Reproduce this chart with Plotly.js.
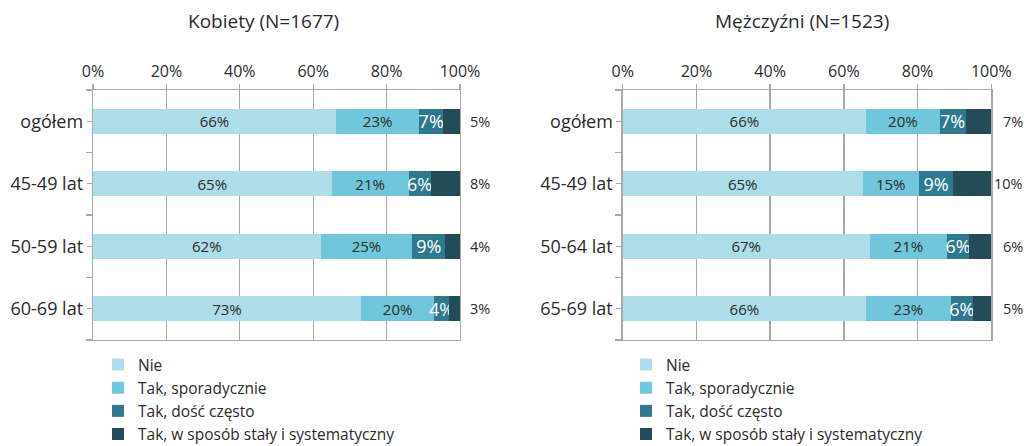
<!DOCTYPE html>
<html>
<head>
<meta charset="utf-8">
<script src="https://cdn.plot.ly/plotly-3.0.1.min.js"></script>
<style>html,body{margin:0;padding:0;background:#fff;}#chart{width:1027px;height:446px;}</style>
</head>
<body>
<div id="chart"></div>
<script>
// ---- data ----
const seriesNames = ['Nie', 'Tak, sporadycznie', 'Tak, dość często', 'Tak, w sposób stały i systematyczny'];
const colors = ['#acdde8', '#70c6da', '#2f798f', '#234b58'];

const titleK = 'Kobiety (N=1677)';
const categoriesK = ['ogółem', '45-49 lat', '50-59 lat', '60-69 lat'];
const kNie = [66.2, 65, 62, 73];
const kSporadycznie = [22.7, 21, 25, 20];
const kCzesto = [6.5, 6, 9, 4];
const kStale = [4.6, 8, 4, 3];

const titleM = 'Mężczyźni (N=1523)';
const categoriesM = ['ogółem', '45-49 lat', '50-64 lat', '65-69 lat'];
const mNie = [66, 65.1, 67, 66];
const mSporadycznie = [20, 15.2, 21, 23];
const mCzesto = [7, 9.4, 6, 6];
const mStale = [7, 10.3, 6, 5];

const xTicks = [0, 20, 40, 60, 80, 100];
const xTickLabels = ['0%', '20%', '40%', '60%', '80%', '100%'];

// ---- styling ----
const FONT = 'Open Sans, Noto Sans, sans-serif';
const TXT = '#2b2b2b';
const GRID = '#a9a9a9';
const W = 1027, H = 446;

function pct(v) { return Math.round(v) + '%'; }

function makeTraces(cats, seriesList, xa, ya, legendId) {
  const idx = cats.map((c, i) => i);
  return seriesList.map((vals, s) => {
    const t = {
      type: 'bar', orientation: 'h',
      x: vals, y: idx,
      name: seriesNames[s],
      xaxis: xa, yaxis: ya,
      legend: legendId,
      marker: {color: colors[s], line: {width: 0}},
      hoverinfo: 'skip'
    };
    if (s < 3) {
      t.text = vals.map(pct);
      t.textposition = 'inside';
      t.insidetextanchor = 'middle';
      t.textangle = 0;
      t.constraintext = 'none';
      t.textfont = s < 2 ? {family: FONT, size: 15, color: TXT} : {family: FONT, size: 18, color: '#ffffff'};
    } else {
      t.textposition = 'none';
    }
    return t;
  });
}

const data = [].concat(
  makeTraces(categoriesK, [kNie, kSporadycznie, kCzesto, kStale], 'x', 'y', 'legend'),
  makeTraces(categoriesM, [mNie, mSporadycznie, mCzesto, mStale], 'x2', 'y2', 'legend2')
);

function xAxis(domain, anchor) {
  return {
    domain: domain, anchor: anchor, side: 'top',
    range: [0, 100], tickmode: 'array', tickvals: xTicks, ticktext: xTickLabels,
    showgrid: true, gridcolor: GRID, gridwidth: 1.3,
    showline: true, mirror: true, linecolor: GRID, linewidth: 1.3,
    ticks: 'outside', ticklen: 5, tickcolor: GRID, tickwidth: 1.3,
    tickfont: {family: FONT, size: 16, color: TXT},
    zeroline: false, fixedrange: true
  };
}
function yAxis(cats, anchor) {
  const idx = cats.map((c, i) => i);
  const bounds = [-0.5].concat(idx.map(i => i + 0.5));
  return {
    domain: [1 - 340 / H, 1 - 90 / H], anchor: anchor,
    range: [cats.length - 0.5, -0.5],
    tickmode: 'array', tickvals: idx, ticktext: cats,
    ticks: 'outside', ticklen: 5, tickcolor: GRID, tickwidth: 1.3,
    minor: {tickmode: 'array', tickvals: bounds, ticks: 'outside', ticklen: 6, tickcolor: GRID, tickwidth: 1.3, showgrid: false},
    showgrid: false, zeroline: false,
    showline: true, mirror: true, linecolor: GRID, linewidth: 1.3,
    tickfont: {family: FONT, size: 18, color: TXT},
    fixedrange: true
  };
}

const annotations = [
  {text: titleK, xref: 'paper', yref: 'paper', x: 263 / W, y: 1 - 21 / H, xanchor: 'center', yanchor: 'middle', showarrow: false, font: {family: FONT, size: 19, color: TXT}},
  {text: titleM, xref: 'paper', yref: 'paper', x: 802 / W, y: 1 - 21 / H, xanchor: 'center', yanchor: 'middle', showarrow: false, font: {family: FONT, size: 19, color: TXT}}
];
kStale.forEach((v, i) => annotations.push({text: pct(v), xref: 'x', yref: 'y', x: 100, y: i, xanchor: 'left', xshift: 8, showarrow: false, font: {family: FONT, size: 14.5, color: TXT}}));
mStale.forEach((v, i) => annotations.push({text: pct(v), xref: 'x2', yref: 'y2', x: 100, y: i, xanchor: 'right', xshift: 34, showarrow: false, font: {family: FONT, size: 14.5, color: TXT}}));

function legendCfg(xpx) {
  return {
    x: xpx / W, y: 1 - 348 / H, xanchor: 'left', yanchor: 'top',
    orientation: 'v', traceorder: 'normal', tracegroupgap: 0,
    bgcolor: 'rgba(0,0,0,0)', borderwidth: 0,
    font: {family: FONT, size: 15.5, color: TXT},
    maxheight: 300,
    itemclick: false, itemdoubleclick: false
  };
}

const layout = {
  width: W, height: H,
  margin: {l: 0, r: 0, t: 0, b: 0, autoexpand: false},
  paper_bgcolor: '#ffffff', plot_bgcolor: '#ffffff',
  font: {family: FONT, color: TXT},
  barmode: 'stack', bargap: 0.6,
  showlegend: true,
  xaxis: xAxis([93 / W, 460 / W], 'y'),
  yaxis: yAxis(categoriesK, 'x'),
  xaxis2: xAxis([622.7 / W, 991.3 / W], 'y2'),
  yaxis2: yAxis(categoriesM, 'x2'),
  legend: legendCfg(98),
  legend2: legendCfg(626),
  annotations: annotations
};

Plotly.newPlot('chart', data, layout, {displayModeBar: false, staticPlot: true});
</script>
</body>
</html>
